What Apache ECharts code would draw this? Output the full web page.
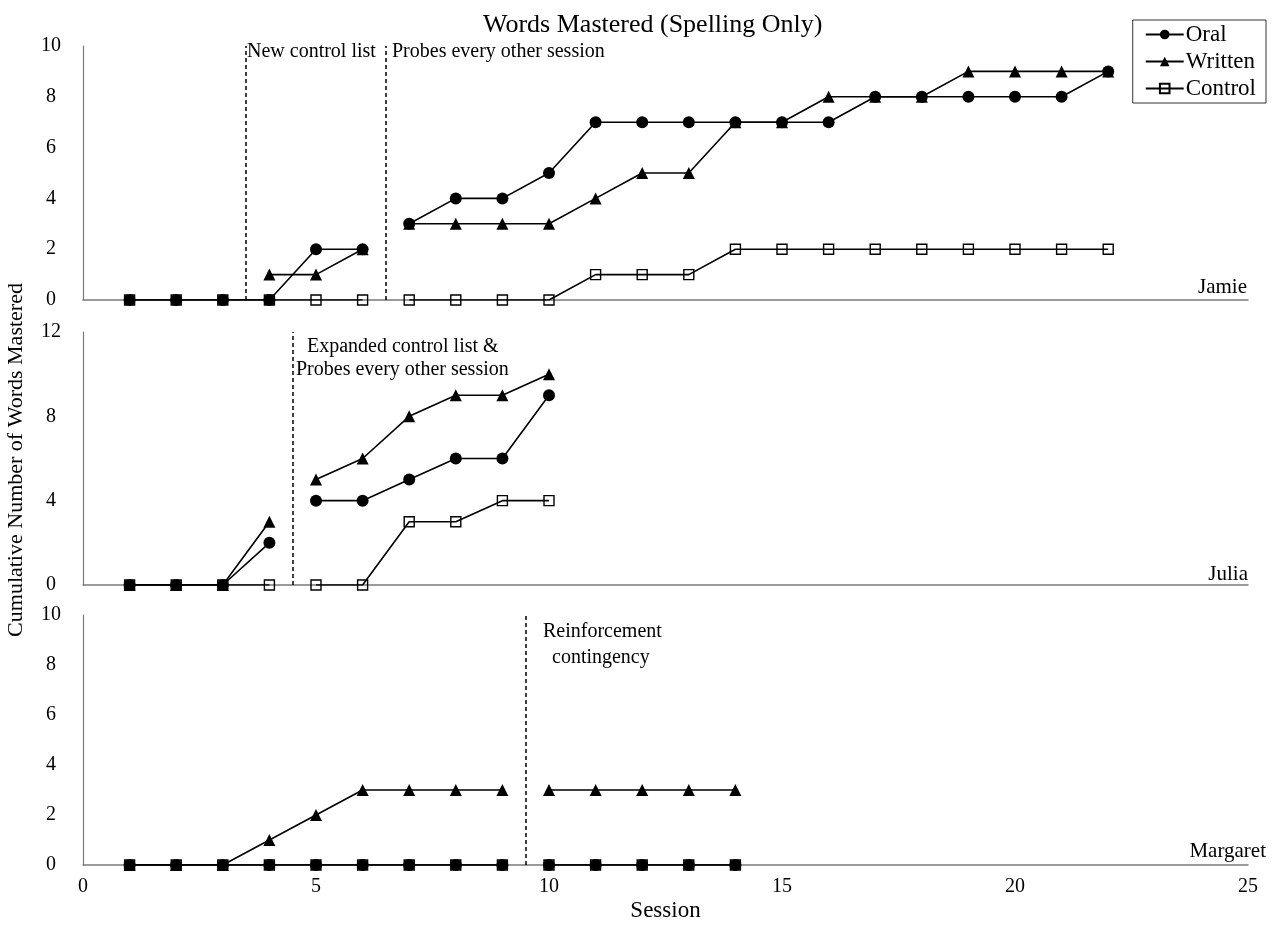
<!DOCTYPE html>
<html>
<head>
<meta charset="utf-8">
<script src="https://cdn.jsdelivr.net/npm/echarts@6/dist/echarts.min.js"></script>
<style>
html,body{margin:0;padding:0;background:#fff;}
#chart{width:1278px;height:926px;}
</style>
</head>
<body>
<div id="chart"></div>
<script>
// ---------- data ----------
var jamieSessions = [1,2,3,4,5,6,7,8,9,10,11,12,13,14,15,16,17,18,19,20,21,22];
var jamieOral     = [0,0,0,0,2,2,3,4,4,5,7,7,7,7,7,7,8,8,8,8,8,9];
var jamieWritten  = [null,null,null,1,1,2,3,3,3,3,4,5,5,7,7,8,8,8,9,9,9,9];
var jamieControl  = [0,0,0,0,0,0,0,0,0,0,1,1,1,2,2,2,2,2,2,2,2,2];
var jamiePhases   = [3.5, 6.5];
var jamieGap      = 6.5;

var juliaSessions = [1,2,3,4,5,6,7,8,9,10];
var juliaOral     = [0,0,0,2,4,4,5,6,6,9];
var juliaWritten  = [0,0,0,3,5,6,8,9,9,10];
var juliaControl  = [0,0,0,0,0,0,3,3,4,4];
var juliaPhases   = [4.5];
var juliaGap      = 4.5;

var margaretSessions = [1,2,3,4,5,6,7,8,9,10,11,12,13,14];
var margaretOral     = [0,0,0,0,0,0,0,0,0,0,0,0,0,0];
var margaretWritten  = [0,0,0,1,2,3,3,3,3,3,3,3,3,3];
var margaretControl  = [0,0,0,0,0,0,0,0,0,0,0,0,0,0];
var margaretPhases   = [9.5];
var margaretGap      = 9.5;

var seriesNames = ['Oral','Written','Control'];
var participants = ['Jamie','Julia','Margaret'];
var yMax = [10, 12, 10];
var yInterval = [2, 4, 2];
var xTicks = [0, 25, 5]; // min, max, interval

// ---------- build ----------
var FONT = '"Liberation Serif","Times New Roman",serif';
function build(sessions, values, gap){
  var out = [];
  for (var i=0;i<sessions.length;i++){
    if (i>0 && sessions[i-1] < gap && sessions[i] > gap) out.push([gap, null]);
    out.push([sessions[i], values[i]]);
  }
  return out;
}
var panels = [
  {s:jamieSessions, o:jamieOral, w:jamieWritten, c:jamieControl, ph:jamiePhases, gap:jamieGap},
  {s:juliaSessions, o:juliaOral, w:juliaWritten, c:juliaControl, ph:juliaPhases, gap:juliaGap},
  {s:margaretSessions, o:margaretOral, w:margaretWritten, c:margaretControl, ph:margaretPhases, gap:margaretGap}
];
var grids = [
  {left:83, width:1165, top:46, height:254},
  {left:83, width:1165, top:332, height:253},
  {left:83, width:1165, top:615, height:250}
];
var xAxes = [], yAxes = [], series = [];
panels.forEach(function(p, k){
  xAxes.push({
    type:'value', gridIndex:k, min:xTicks[0], max:xTicks[1], interval:xTicks[2],
    axisLine:{show:true, onZero:false, lineStyle:{color:'#7a7a7a', width:1.5}},
    axisTick:{show:false}, splitLine:{show:false},
    axisLabel:{show:k===2, color:'#000', fontFamily:FONT, fontSize:20, margin:12},
    name: k===2 ? 'Session' : '', nameLocation:'middle', nameGap:34,
    nameTextStyle:{color:'#000', fontFamily:FONT, fontSize:23}
  });
  yAxes.push({
    type:'value', gridIndex:k, min:0, max:yMax[k], interval:yInterval[k],
    axisLine:{show:true, lineStyle:{color:'#7a7a7a', width:1.2}},
    axisTick:{show:false}, splitLine:{show:false},
    axisLabel:{color:'#000', fontFamily:FONT, fontSize:20, align:'center', margin:32}
  });
  var common = {type:'line', xAxisIndex:k, yAxisIndex:k, connectNulls:false,
    lineStyle:{color:'#000', width:1.6}, animation:false, silent:true};
  series.push(Object.assign({}, common, {
    name:'Oral', data:build(p.s, p.o, p.gap), symbol:'circle', symbolSize:12,
    itemStyle:{color:'#000'}, z:2,
    markLine:{silent:true, symbol:['none','none'], label:{show:false},
      lineStyle:{color:'#000', type:[4,3], width:1.5},
      data:p.ph.map(function(x){return {xAxis:x};})}
  }));
  series.push(Object.assign({}, common, {
    name:'Written', data:build(p.s, p.w, p.gap), symbol:'triangle', symbolSize:12,
    itemStyle:{color:'#000'}, z:3
  }));
  series.push(Object.assign({}, common, {
    name:'Control', data:build(p.s, p.c, p.gap), symbol:'rect', symbolSize:10,
    itemStyle:{color:'rgba(0,0,0,0)', borderColor:'#000', borderWidth:1.4}, z:4
  }));
});

function txt(t, x, y, align, size){
  return {type:'text', silent:true, style:{text:t, x:x, y:y, textAlign:align||'left',
    textVerticalAlign:'middle', font:(size||20)+'px '+FONT, fill:'#000'}};
}

var option = {
  backgroundColor:'#fff',
  animation:false,
  title:{text:'Words Mastered (Spelling Only)', left:478, top:7,
    textStyle:{fontFamily:FONT, fontSize:26, fontWeight:'normal', color:'#000'}},
  legend:{
    data:seriesNames, orient:'vertical', right:12, top:20,
    borderColor:'#333', borderWidth:1, padding:[3,10,3,12], itemGap:4,
    itemWidth:38, itemHeight:12,
    textStyle:{fontFamily:FONT, fontSize:23, color:'#000', padding:[0,0,0,-3]}
  },
  grid:grids, xAxis:xAxes, yAxis:yAxes, series:series,
  graphic:[
    txt('New control list', 247, 52),
    txt('Probes every other session', 392, 52),
    txt('Expanded control list &', 307, 347),
    txt('Probes every other session', 296, 370),
    txt('Reinforcement', 543, 632),
    txt('contingency', 552, 658),
    txt('Jamie', 1247, 287, 'right', 21),
    txt('Julia', 1248, 574, 'right', 21),
    txt('Margaret', 1266, 851, 'right', 21),
    {type:'text', silent:true, x:16, y:460, rotation:Math.PI/2,
      style:{text:'Cumulative Number of Words Mastered', x:0, y:0, textAlign:'center',
        textVerticalAlign:'middle', font:'22px '+FONT, fill:'#000'}}
  ]
};
var chart = echarts.init(document.getElementById('chart'), null, {renderer:'canvas'});
chart.setOption(option);
</script>
</body>
</html>
